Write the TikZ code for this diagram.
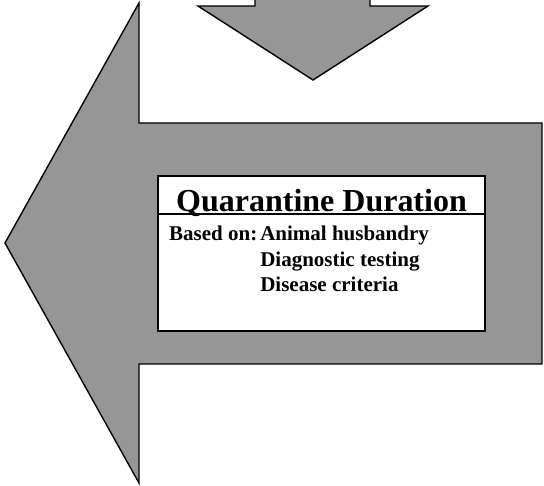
\documentclass[tikz,border=0pt]{standalone}
\usepackage{fontspec}
\setmainfont{Liberation Serif}
\usepackage{tikz}
\usetikzlibrary{positioning}
\usetikzlibrary{calc}
\definecolor{arrowgray}{RGB}{150,150,150}

\begin{document}
\begin{tikzpicture}[x=1pt,y=-1pt,bigarrow/.style={fill=arrowgray,draw=black,line width=1.4pt,line join=miter},infobox/.style={draw=black,fill=white,line width=1.9pt}]
            \useasboundingbox (0,0) rectangle (544,486);
            \fill[white] (0,0) rectangle (544,486);
            % arrow coming down
            \draw[bigarrow] (255,-2) -- (255,6) -- (198,6) -- (313,80) -- (428,6) -- (370,6) -- (370,-2);
            % big arrow pointing left
            \draw[bigarrow] (542,123) -- (139,123) -- (139,3) -- (5,243) -- (139,483) -- (139,364) -- (542,364) -- cycle;
            \node[infobox,minimum width=327pt,minimum height=155pt,inner sep=0pt] (box) at (321.5,253.5) {};
            \draw[line width=1.6pt] (box.west |- 0,214) coordinate (sepl) -- (box.east |- 0,214) coordinate (sepr);
            \begin{scope}[every node/.style={inner sep=0pt,font=\bfseries}]
              \node[anchor=base,font=\bfseries\fontsize{32}{36}\selectfont] (title) at (321.5,212) {Quarantine Duration};
              \node[anchor=base west,font=\bfseries\fontsize{21}{25.5}\selectfont] (basis) at (169,241)
                {\begin{tabular}[t]{@{}l@{\hspace{3pt}}l@{}}
                  Based on: & Animal husbandry\\
                  & Diagnostic testing\\
                  & Disease criteria
                \end{tabular}};
            \end{scope}
          \end{tikzpicture}
\end{document}
